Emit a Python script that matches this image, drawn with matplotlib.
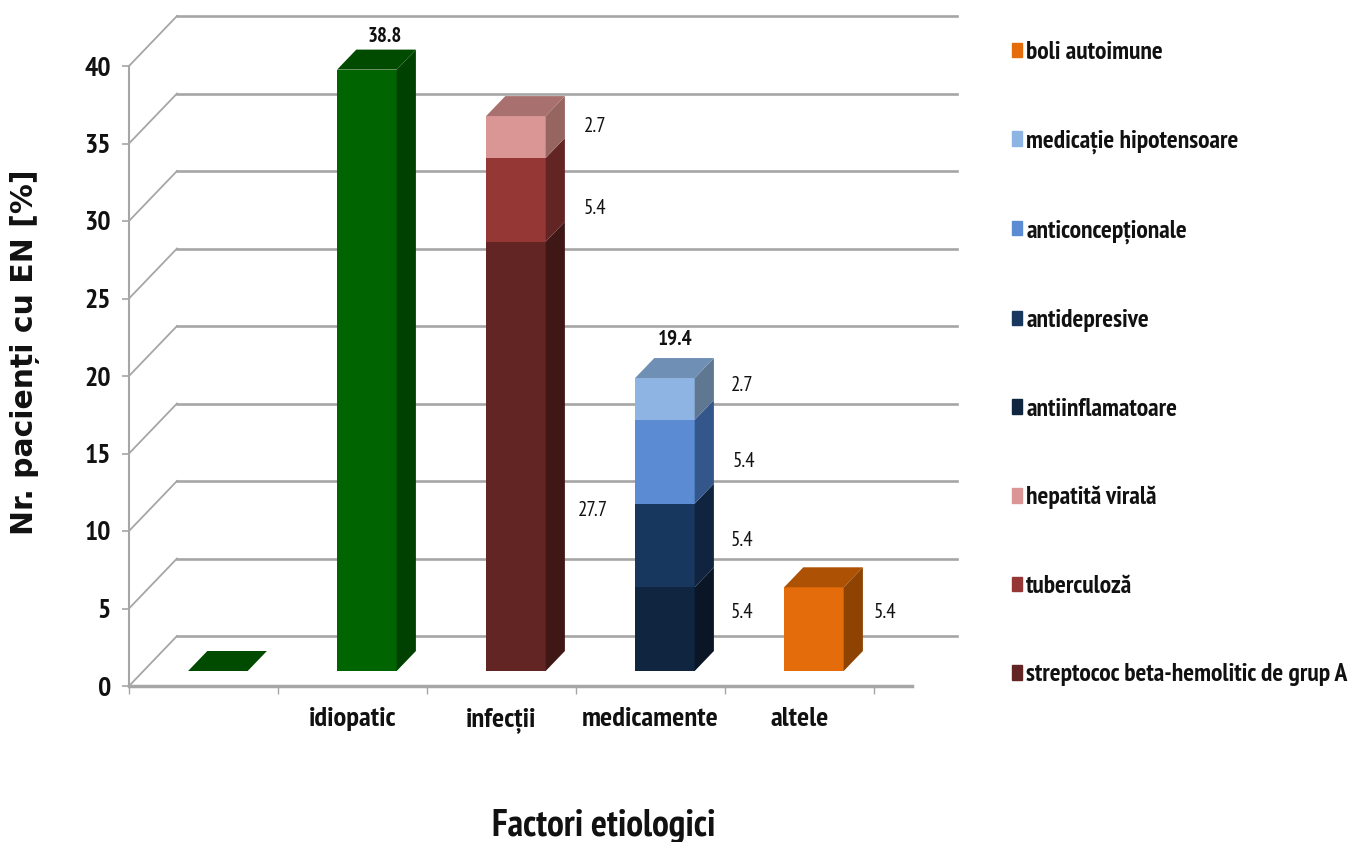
"""Stacked pseudo-3D columns: etiological factors of erythema nodosum."""

import matplotlib

matplotlib.use("Agg")

import matplotlib.pyplot as plt
from matplotlib.patches import Patch

NARROW = ["PT Sans Narrow", "Liberation Sans", "DejaVu Sans"]
plt.rcParams["font.family"] = NARROW

# Data
categories = ["", "idiopatic", "infecții", "medicamente", "altele"]
y_ticks = [0, 5, 10, 15, 20, 25, 30, 35, 40]

stack_blank = [0]
stack_idiopatic = [38.8]
stack_infectii = [27.7, 5.4, 2.7]
stack_medicamente = [5.4, 5.4, 5.4, 2.7]
stack_altele = [5.4]

legend_labels = [
    "boli autoimune",
    "medicație hipotensoare",
    "anticoncepționale",
    "antidepresive",
    "antiinflamatoare",
    "hepatită virală",
    "tuberculoză",
    "streptococ beta-hemolitic de grup A",
]

# (front, side, top) colours per segment
GREEN = ("#006400", "#004000", "#004b00")
STREP = ("#632523", "#3f1715", "#4a1c1a")
TB = ("#953735", "#632523", "#702927")
HEP = ("#d99694", "#96655f", "#a8706e")
INFLAM = ("#10253f", "#0a1626", "#0c1c30")
DEPR = ("#17375e", "#10243f", "#112947")
CONTRA = ("#5a8bd3", "#33578a", "#44689e")
HYPO = ("#8eb4e3", "#5f7791", "#6f8fb4")
ORANGE = ("#e46c0a", "#8e4302", "#ad5105")

stacks = [
    (stack_blank, [GREEN]),
    (stack_idiopatic, [GREEN]),
    (stack_infectii, [STREP, TB, HEP]),
    (stack_medicamente, [INFLAM, DEPR, CONTRA, HYPO]),
    (stack_altele, [ORANGE]),
]
legend_colors = [ORANGE[0], HYPO[0], CONTRA[0], DEPR[0], INFLAM[0], HEP[0], TB[0], STREP[0]]

W, H = 1355, 842
GRID = "#a6a6a6"
TXT = "#111111"

# Oblique depth of the chart box, in data units
DEPTH_X = 48 / 149
DEPTH_Y = 50 / 15.5
BAR_WIDTH = 0.4
D_FRONT = 0.3
D_BACK = 0.7
X_MAX = 783 / 149

fig = plt.figure(figsize=(W / 100, H / 100), dpi=100)
ax = fig.add_axes([129 / W, (H - 686) / H, 783 / W, 620 / H])
ax.set_xlim(0, X_MAX)
ax.set_ylim(0, 40)
ax.patch.set_visible(False)


def px_text(x, y, s, **kw):
    """Text placed by figure pixel, y measured from the top."""
    fig.text(x / W, 1 - y / H, s, ha="center", va="center", color=TXT, **kw)


# Walls: back lines, diagonals from the axis
for v in y_ticks:
    ax.plot([DEPTH_X, X_MAX + DEPTH_X - 0.02], [v + DEPTH_Y] * 2, color=GRID, lw=1.9, clip_on=False, zorder=1)
    ax.plot([0, DEPTH_X], [v, v + DEPTH_Y], color=GRID, lw=1.3, clip_on=False, zorder=1)

# Columns
for i, (values, colors) in enumerate(stacks):
    x0 = i + 0.5 - BAR_WIDTH / 2
    x1 = x0 + BAR_WIDTH
    fx0, fx1 = x0 + D_FRONT * DEPTH_X, x1 + D_FRONT * DEPTH_X
    shift_x = (D_BACK - D_FRONT) * DEPTH_X
    shift_y = (D_BACK - D_FRONT) * DEPTH_Y
    base = D_FRONT * DEPTH_Y
    for val, (front, side, top) in zip(values, colors):
        ax.bar((fx0 + fx1) / 2, val, BAR_WIDTH, bottom=base, color=front, clip_on=False, zorder=3)
        ax.fill(
            [fx1, fx1 + shift_x, fx1 + shift_x, fx1],
            [base, base + shift_y, base + val + shift_y, base + val],
            color=side, lw=0, clip_on=False, zorder=3,
        )
        base += val
    ax.fill(
        [fx0, fx1, fx1 + shift_x, fx0 + shift_x],
        [base, base, base + shift_y, base + shift_y],
        color=colors[-1][2], lw=0, clip_on=False, zorder=3,
    )

# Axis
for name in ("top", "right"):
    ax.spines[name].set_visible(False)
ax.spines["left"].set_color(GRID)
ax.spines["left"].set_linewidth(1.5)
ax.spines["bottom"].set_color(GRID)
ax.spines["bottom"].set_linewidth(2.5)
ax.set_yticks(y_ticks)
ax.set_xticks(range(6))
ax.set_xticklabels([])
ax.set_xticks([i + 0.5 for i in range(5)], categories, minor=True)
ax.tick_params(axis="x", which="major", length=6, width=1, color=GRID, direction="out")
ax.tick_params(axis="x", which="minor", length=0, pad=15, labelsize=20.5, labelcolor=TXT)
ax.tick_params(axis="y", length=5, width=1.2, color=GRID, pad=8, labelsize=20, labelcolor=TXT)
for lab in ax.get_xticklabels(minor=True) + ax.get_yticklabels():
    lab.set_fontweight("bold")

# Data labels
px_text(385, 36, "38.8", fontsize=15, fontweight="bold")
px_text(675, 339, "19.4", fontsize=15, fontweight="bold")
for x, y, s in [
    (595, 127, "2.7"), (595, 208, "5.4"), (593, 511, "27.7"),
    (742, 385, "2.7"), (744, 461, "5.4"), (742, 541, "5.4"),
    (742, 612, "5.4"), (885, 613, "5.4"),
]:
    px_text(x, y, s, fontsize=15)

# Axis titles
px_text(25, 352, "Nr. pacienți cu EN [%]", fontsize=21.5, fontweight="bold",
        rotation=90, family="DejaVu Sans")
px_text(604, 826, "Factori etiologici", fontsize=27, fontweight="bold")

# Legend
handles = [Patch(color=c) for c in legend_colors]
fig.legend(
    handles, legend_labels,
    loc="upper left", bbox_to_anchor=(1012 / W, 1 - 41 / H),
    frameon=False, ncol=1,
    prop={"weight": "bold", "size": 18.4},
    handlelength=0.38, handleheight=0.5, handletextpad=0.18,
    labelspacing=2.56, labelcolor=TXT, borderpad=0, borderaxespad=0,
)

fig.savefig("out.png", dpi=100)
